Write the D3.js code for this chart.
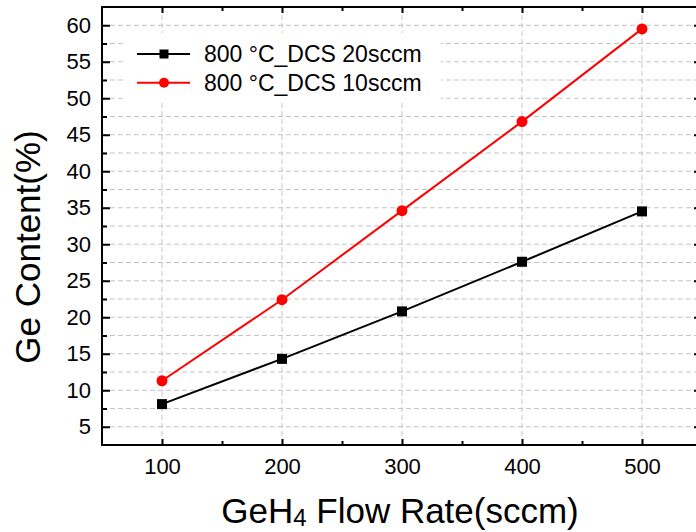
<!DOCTYPE html>
<html>
<head>
<meta charset="utf-8">
<script src="https://cdn.jsdelivr.net/npm/d3@7"></script>
<style>
  body { margin: 0; background: #fff; }
  svg { display: block; font-family: "Liberation Sans", Arial, sans-serif; }
</style>
</head>
<body>
<svg id="chart" width="696" height="532"></svg>
<script>
// data
const flowRates = [100, 200, 300, 400, 500];
const dcs20 = [8.1, 14.3, 20.8, 27.6, 34.5];
const dcs10 = [11.3, 22.4, 34.6, 46.8, 59.5];
const seriesNames = ["800 \u00b0C_DCS 20sccm", "800 \u00b0C_DCS 10sccm"];
const xTicks = [100, 200, 300, 400, 500];
const yTicks = [5, 10, 15, 20, 25, 30, 35, 40, 45, 50, 55, 60];

const svg = d3.select("#chart");
const margin = { top: 7, right: -6, bottom: 87, left: 102 };
const width = 696 - margin.left - margin.right;
const height = 532 - margin.top - margin.bottom;

const x = d3.scaleLinear().domain([50, 550]).range([0, width]);
const y = d3.scaleLinear().domain([2.5, 62.5]).range([height, 0]);

const g = svg.append("g")
    .attr("transform", `translate(${margin.left},${margin.top})`);

//grid lines
const yGrid = d3.range(5, 61, 2.5);
g.append("g").selectAll("line")
    .data(yGrid)
    .enter().append("line")
    .attr("x1", 0).attr("x2", width)
    .attr("y1", d => y(d)).attr("y2", d => y(d))
    .attr("stroke", "#c4c4c4").attr("stroke-width", 1)
    .attr("stroke-dasharray", "5,3");

g.append("g").selectAll("line")
    .data(xTicks)
    .enter().append("line")
    .attr("x1", d => x(d)).attr("x2", d => x(d))
    .attr("y1", 0).attr("y2", height)
    .attr("stroke", "#c4c4c4").attr("stroke-width", 1)
    .attr("stroke-dasharray", "5,3");

//axes with inward ticks, major + minor, on all four sides
const xMinor = [150, 250, 350, 450];
const yMinor = d3.range(7.5, 60, 5);

function styleAxis(sel) {
    sel.select(".domain").remove();
    sel.selectAll(".tick line").attr("stroke", "#000").attr("stroke-width", 2);
    sel.selectAll("text").attr("fill", "#000").style("font-size", "22px");
}

g.append("g")
    .attr("transform", `translate(0,${height})`)
    .call(d3.axisBottom(x).tickValues(xTicks).tickSize(-6).tickPadding(13).tickFormat(d3.format("d")))
    .call(styleAxis);
g.append("g")
    .attr("transform", `translate(0,${height})`)
    .call(d3.axisBottom(x).tickValues(xMinor).tickSize(-4).tickFormat(""))
    .call(styleAxis);
g.append("g")
    .call(d3.axisTop(x).tickValues(xTicks).tickSize(-6).tickFormat(""))
    .call(styleAxis);
g.append("g")
    .call(d3.axisTop(x).tickValues(xMinor).tickSize(-4).tickFormat(""))
    .call(styleAxis);

g.append("g")
    .call(d3.axisLeft(y).tickValues(yTicks).tickSize(-8).tickPadding(11).tickFormat(d3.format("d")))
    .call(styleAxis);
g.append("g")
    .call(d3.axisLeft(y).tickValues(yMinor).tickSize(-5).tickFormat(""))
    .call(styleAxis);
g.append("g")
    .attr("transform", `translate(${width},0)`)
    .call(d3.axisRight(y).tickValues(yTicks).tickSize(-8).tickFormat(""))
    .call(styleAxis);
g.append("g")
    .attr("transform", `translate(${width},0)`)
    .call(d3.axisRight(y).tickValues(yMinor).tickSize(-5).tickFormat(""))
    .call(styleAxis);

//frame
g.append("rect")
    .attr("width", width).attr("height", height)
    .attr("fill", "none").attr("stroke", "#000").attr("stroke-width", 2);

//legend background hides the grid behind it
const legend = g.append("g").attr("transform", "translate(21,26)");
legend.append("rect")
    .attr("x", 0).attr("y", 0)
    .attr("width", 318).attr("height", 70)
    .attr("fill", "#fff");

//series
const series = [
    { name: seriesNames[0], values: dcs20, color: "#000000", shape: "square" },
    { name: seriesNames[1], values: dcs10, color: "#ff0000", shape: "circle" }
];

const line = d3.line()
    .x((d, i) => x(flowRates[i]))
    .y(d => y(d));

series.forEach(s => {
    g.append("path")
        .datum(s.values)
        .attr("fill", "none")
        .attr("stroke", s.color)
        .attr("stroke-width", 2)
        .attr("d", line);

    const pts = g.append("g").selectAll(".pt")
        .data(s.values)
        .enter();
    if (s.shape === "square") {
        pts.append("rect")
            .attr("x", (d, i) => x(flowRates[i]) - 5)
            .attr("y", d => y(d) - 5)
            .attr("width", 10).attr("height", 10)
            .attr("fill", s.color);
    } else {
        pts.append("circle")
            .attr("cx", (d, i) => x(flowRates[i]))
            .attr("cy", d => y(d))
            .attr("r", 5.5)
            .attr("fill", s.color);
    }
});

//legend entries
series.forEach((s, i) => {
    const row = legend.append("g").attr("transform", `translate(0,${21 + i * 28.7})`);
    row.append("line")
        .attr("x1", 14).attr("x2", 67)
        .attr("y1", 0).attr("y2", 0)
        .attr("stroke", s.color).attr("stroke-width", 2);
    if (s.shape === "square") {
        row.append("rect")
            .attr("x", 36.5).attr("y", -4.5)
            .attr("width", 9).attr("height", 9)
            .attr("fill", s.color);
    } else {
        row.append("circle")
            .attr("cx", 41).attr("cy", 0).attr("r", 5)
            .attr("fill", s.color);
    }
    row.append("text")
        .attr("x", 81).attr("y", 8)
        .style("font-size", "23px")
        .attr("fill", "#000")
        .text(s.name);
});

//axis titles
const xTitle = svg.append("text")
    .attr("x", 400)
    .attr("y", 523)
    .attr("text-anchor", "middle")
    .style("font-size", "35px")
    .attr("fill", "#000");
xTitle.append("tspan").text("GeH");
xTitle.append("tspan").style("font-size", "24px").attr("dy", 3).text("4");
xTitle.append("tspan").attr("dy", -3).text(" Flow Rate(sccm)");

svg.append("text")
    .attr("transform", "translate(40,247) rotate(-90)")
    .attr("text-anchor", "middle")
    .style("font-size", "35px")
    .attr("fill", "#000")
    .text("Ge Content(%)");
</script>
</body>
</html>
